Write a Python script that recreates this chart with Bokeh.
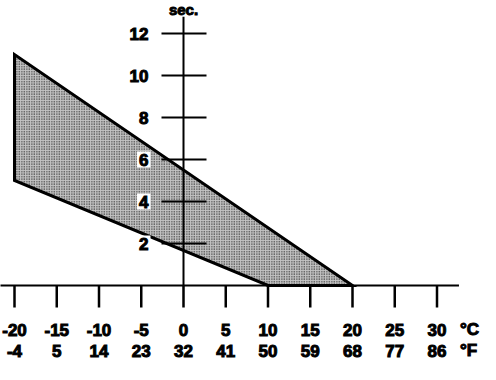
from bokeh.plotting import figure
from bokeh.models import Range1d
from bokeh.embed import file_html
from bokeh.resources import INLINE
from bokeh.core.properties import value

# ---- data ----
celsius = [-20, -15, -10, -5, 0, 5, 10, 15, 20, 25, 30]
fahrenheit = [-4, 5, 14, 23, 32, 41, 50, 59, 68, 77, 86]
sec_ticks = [2, 4, 6, 8, 10, 12]
poly_c = [-20, -20, 10, 20]
poly_s = [11, 5, 0, 0]

W, H = 480, 364
x0px, xs = 183, 8.45
y0px, ys = 285, 21.0

p = figure(width=W, height=H, output_backend="svg", toolbar_location=None,
           x_axis_type=None, y_axis_type=None, min_border=0,
           x_range=Range1d(-x0px / xs, (W - x0px) / xs),
           y_range=Range1d(-(H - y0px) / ys, y0px / ys))
p.grid.visible = False
p.outline_line_color = None
p.background_fill_color = "white"
p.border_fill_color = "white"

FONT = value("Liberation Sans")

# shaded region
p.patch(poly_c, poly_s, fill_color="#c4c4c4", hatch_pattern="dot",
        hatch_color="black", hatch_scale=2.5, hatch_weight=1,
        line_color="black", line_width=3, line_join="miter")

# axes lines
p.segment(x0=[-22.2], y0=[0], x1=[32.6], y1=[0], line_color="black", line_width=2)
p.segment(x0=[0], y0=[0], x1=[0], y1=[12.8], line_color="black", line_width=2)

# x ticks
p.segment(x0=celsius, y0=[0] * len(celsius), x1=celsius, y1=[-22 / ys] * len(celsius),
          line_color="black", line_width=2.5)
# y ticks
p.segment(x0=[-22 / xs] * len(sec_ticks), y0=sec_ticks, x1=[23 / xs] * len(sec_ticks), y1=sec_ticks,
          line_color="black", line_width=2)

# y labels
p.text(x=[0] * len(sec_ticks), y=sec_ticks, text=[str(s) for s in sec_ticks],
       x_offset=-33, text_align="right", text_baseline="middle",
       text_font=FONT, text_font_style="bold", text_font_size="17px",
       text_outline_color="black",
       background_fill_color="white", padding=2)

# x labels
p.text(x=celsius, y=[0] * len(celsius), text=[str(c) for c in celsius],
       y_offset=44, text_align="center", text_baseline="middle",
       text_font=FONT, text_font_style="bold", text_font_size="17px",
       text_outline_color="black")
p.text(x=celsius, y=[0] * len(celsius), text=[str(f) for f in fahrenheit],
       y_offset=65, text_align="center", text_baseline="middle",
       text_font=FONT, text_font_style="bold", text_font_size="17px",
       text_outline_color="black")

# units
p.text(x=[celsius[-1]], y=[0], text=["°C"], x_offset=23, y_offset=44,
       text_align="left", text_baseline="middle",
       text_font=FONT, text_font_style="bold", text_font_size="17px",
       text_outline_color="black")
p.text(x=[celsius[-1]], y=[0], text=["°F"], x_offset=23, y_offset=65,
       text_align="left", text_baseline="middle",
       text_font=FONT, text_font_style="bold", text_font_size="17px",
       text_outline_color="black")
p.text(x=[0], y=[y0px / ys], text=["sec."], y_offset=0,
       text_align="center", text_baseline="top",
       text_font=FONT, text_font_style="bold", text_font_size="15px",
       text_outline_color="black")

open("out.html", "w").write(file_html(p, INLINE))
